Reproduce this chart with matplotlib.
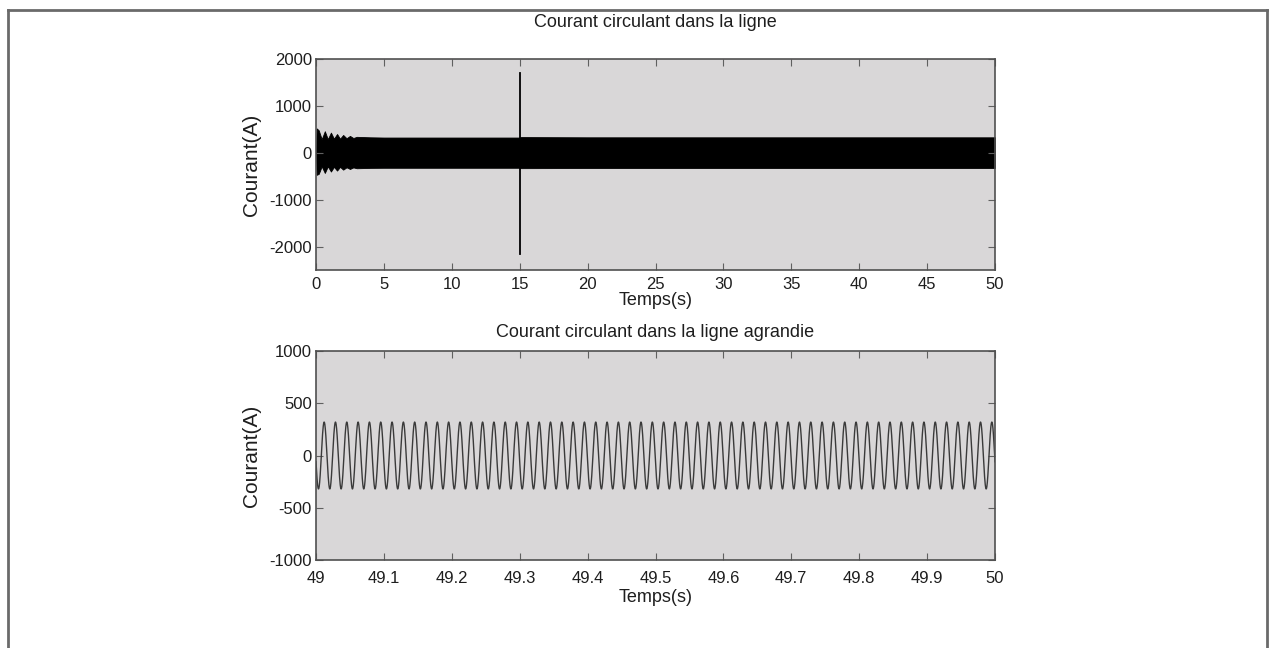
import numpy as np
import matplotlib
matplotlib.use("Agg")
import matplotlib.pyplot as plt
from matplotlib.lines import Line2D

# ---------------- data ----------------
# Top plot: envelope of the dense 60 Hz line current (A) over 0..50 s
env_t     = [0.0, 0.05, 0.2, 0.42, 0.65, 0.87, 1.1, 1.32, 1.55, 1.77, 2.0, 2.25, 2.5, 2.75, 3.0, 4.0, 5.0, 14.95, 15.1, 20.0, 30.0, 40.0, 50.0]
env_upper = [0,   520,  480, 290,  460,  290,  430, 300,  400,  300,  380, 310,  360, 315,  340, 330, 325, 325,   335,  330,  330,  330,  330]
env_lower = [0,  -470, -450, -290, -430, -290, -400, -300, -380, -300, -360, -310, -345, -312, -330, -322, -320, -320, -328, -325, -325, -325, -325]
# Spike (fault) at t = 15 s
spike_t   = [15.0, 15.0]
spike_i   = [1700, -2150]

# Bottom plot: zoom on 49..50 s, steady-state sinusoid
zoom_start, zoom_end = 49.0, 50.0
zoom_amplitude = 320.0      # A
zoom_frequency = 60.0       # Hz (about 60 cycles in one second)
zoom_first_peak = 49.012    # s

top_title = "Courant circulant dans la ligne"
bot_title = "Courant circulant dans la ligne agrandie"
xlabel = "Temps(s)"
ylabel = "Courant(A)"
top_xticks = [0, 5, 10, 15, 20, 25, 30, 35, 40, 45, 50]
top_yticks = [-2000, -1000, 0, 1000, 2000]
bot_xticks = [49, 49.1, 49.2, 49.3, 49.4, 49.5, 49.6, 49.7, 49.8, 49.9, 50]
bot_xticklabels = ["49", "49.1", "49.2", "49.3", "49.4", "49.5", "49.6", "49.7", "49.8", "49.9", "50"]
bot_yticks = [-1000, -500, 0, 500, 1000]

# ---------------- style ----------------
plt.rcParams['font.family'] = ['Liberation Sans', 'DejaVu Sans']
plt.rcParams['axes.unicode_minus'] = False
txt_col = '#1e1e1e'
ax_bg = '#d9d7d8'
spine_col = '#505050'

W, H = 1273, 648
fig = plt.figure(figsize=(W / 100, H / 100), dpi=100, facecolor='white')

def px_axes(l, t, r, b):
    return fig.add_axes([l / W, 1 - b / H, (r - l) / W, (b - t) / H])

def style(ax, xpad):
    ax.set_facecolor(ax_bg)
    for s in ax.spines.values():
        s.set_color(spine_col)
        s.set_linewidth(1.2)
    ax.tick_params(direction='in', top=True, right=True, length=5, width=0.8,
                   color='#606060', labelsize=12, labelcolor=txt_col)
    ax.tick_params(axis='y', pad=3)
    ax.tick_params(axis='x', pad=xpad)

# Top axes
ax1 = px_axes(316, 59, 995, 270)
style(ax1, 5)
ax1.fill_between(env_t, env_lower, env_upper, color='black', linewidth=0.6, edgecolor='black')
ax1.plot(spike_t, spike_i, color='black', linewidth=1.3)
ax1.set_xlim(0, 50)
ax1.set_ylim(-2500, 2000)
ax1.set_xticks(top_xticks)
ax1.set_yticks(top_yticks)
ax1.set_title(top_title, fontsize=13, color=txt_col, pad=23)
ax1.set_xlabel(xlabel, fontsize=13, color=txt_col, labelpad=0)
ax1.set_ylabel(ylabel, fontsize=15, color=txt_col, labelpad=6)

# Bottom axes
ax2 = px_axes(316, 351, 995, 560)
style(ax2, 8)
t = np.linspace(zoom_start, zoom_end, 6000)
i = zoom_amplitude * np.cos(2 * np.pi * zoom_frequency * (t - zoom_first_peak))
ax2.plot(t, i, color='#3a3a3a', linewidth=1.0)
ax2.set_xlim(zoom_start, zoom_end)
ax2.set_ylim(-1000, 1000)
ax2.set_xticks(bot_xticks)
ax2.set_xticklabels(bot_xticklabels)
ax2.set_yticks(bot_yticks)
ax2.set_title(bot_title, fontsize=13, color=txt_col, pad=10)
ax2.set_xlabel(xlabel, fontsize=13, color=txt_col, labelpad=2)
ax2.set_ylabel(ylabel, fontsize=15, color=txt_col, labelpad=6)

# Scanned page frame (left, top, right edges)
fc = '#6a6a6a'
fig.add_artist(Line2D([8 / W, 8 / W], [0, 1 - 10 / H], transform=fig.transFigure, color=fc, lw=2))
fig.add_artist(Line2D([8 / W, 1267 / W], [1 - 10 / H, 1 - 10 / H], transform=fig.transFigure, color=fc, lw=2))
fig.add_artist(Line2D([1267 / W, 1267 / W], [0, 1 - 10 / H], transform=fig.transFigure, color=fc, lw=2))

fig.savefig("out.png", dpi=100, facecolor='white')
